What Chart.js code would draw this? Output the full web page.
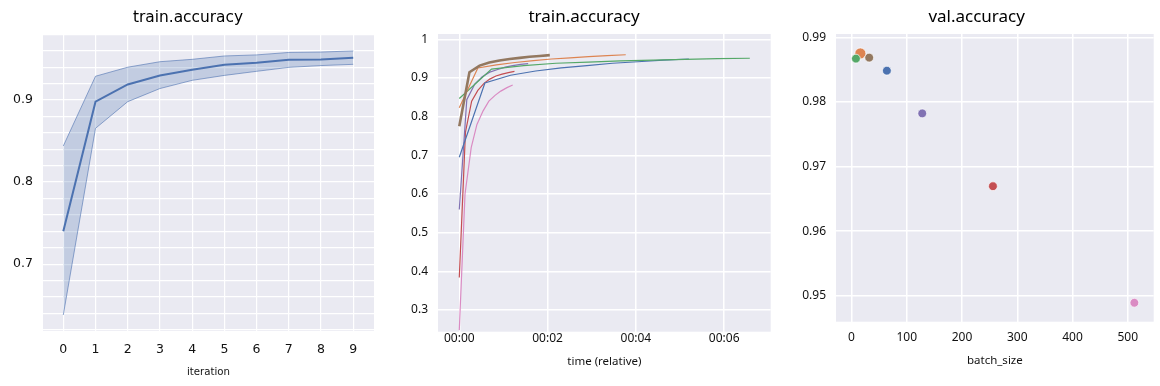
<!DOCTYPE html>
<html>
<head>
<meta charset="utf-8">
<script src="https://cdn.jsdelivr.net/npm/chart.js@4/dist/chart.umd.min.js"></script>
<style>
  body { margin: 0; background: #fff; }
  canvas { position: absolute; top: 0; }
</style>
</head>
<body>
<canvas id="iterChart" width="386" height="386" style="left:0"></canvas>
<canvas id="timeChart" width="387" height="386" style="left:386px"></canvas>
<canvas id="batchChart" width="387" height="386" style="left:773px"></canvas>
<script>
// left panel: accuracy per iteration (mean and band)
const iterations = [0, 1, 2, 3, 4, 5, 6, 7, 8, 9];
const meanAcc  = [0.740, 0.898, 0.919, 0.930, 0.937, 0.943, 0.9455, 0.949, 0.9495, 0.9516];
const upperAcc = [0.844, 0.929, 0.940, 0.9467, 0.9496, 0.9537, 0.955, 0.958, 0.9585, 0.9598];
const lowerAcc = [0.638, 0.8655, 0.898, 0.914, 0.924, 0.930, 0.935, 0.9398, 0.942, 0.9435];
const iterGridTicks = [0.62, 0.64, 0.66, 0.68, 0.70, 0.72, 0.74, 0.76, 0.78, 0.80,
                       0.82, 0.84, 0.86, 0.88, 0.90, 0.92, 0.94, 0.96, 0.98];
const iterLabelTicks = [0.7, 0.8, 0.9];

// middle panel: accuracy against time, one run per batch size
const timeTicks = [0, 2, 4, 6];
const timeTickLabels = ['00:00', '00:02', '00:04', '00:06'];
const accTicks = [0.3, 0.4, 0.5, 0.6, 0.7, 0.8, 0.9, 1.0];
const brownTime  = [0, 0.23, 0.46, 0.68, 0.91, 1.14, 1.37, 1.59, 1.82, 2.05];
const brownAcc   = [0.775, 0.915, 0.932, 0.940, 0.945, 0.949, 0.952, 0.955, 0.957, 0.959];
const orangeTime = [0, 0.42, 0.84, 1.26, 1.68, 2.09, 2.51, 2.93, 3.35, 3.77];
const orangeAcc  = [0.823, 0.926, 0.934, 0.940, 0.945, 0.949, 0.952, 0.955, 0.958, 0.960];
const greenTime  = [0, 0.73, 1.46, 2.19, 2.92, 3.65, 4.39, 5.12, 5.85, 6.58];
const greenAcc   = [0.847, 0.923, 0.932, 0.938, 0.941, 0.944, 0.946, 0.948, 0.950, 0.951];
const blueTime   = [0, 0.58, 1.16, 1.73, 2.31, 2.89, 3.47, 4.04, 4.62, 5.20];
const blueAcc    = [0.695, 0.887, 0.907, 0.918, 0.926, 0.932, 0.938, 0.942, 0.946, 0.949];
const purpleTime = [0, 0.17, 0.35, 0.52, 0.69, 0.87, 1.04, 1.21, 1.39, 1.56];
const purpleAcc  = [0.560, 0.844, 0.884, 0.903, 0.915, 0.922, 0.928, 0.932, 0.935, 0.937];
const redTime    = [0, 0.14, 0.28, 0.42, 0.56, 0.69, 0.83, 0.97, 1.11, 1.25];
const redAcc     = [0.384, 0.76, 0.840, 0.868, 0.886, 0.897, 0.905, 0.910, 0.914, 0.917];
const pinkTime   = [0, 0.13, 0.27, 0.40, 0.54, 0.67, 0.81, 0.94, 1.08, 1.21];
const pinkAcc    = [0.248, 0.60, 0.72, 0.78, 0.815, 0.840, 0.855, 0.866, 0.875, 0.882];

// right panel: final validation accuracy per batch size
const batchSizes = [16, 8, 32, 64, 128, 256, 512];
const valAcc = [0.9875, 0.9867, 0.98685, 0.98483, 0.97822, 0.96695, 0.94891];
const batchTicks = [0, 100, 200, 300, 400, 500];
const valTicks = [0.95, 0.96, 0.97, 0.98, 0.99];

const C = {
    blue: '#4c72b0', orange: '#dd8452', green: '#55a868', red: '#c44e52',
    purple: '#8172b3', brown: '#937860', pink: '#da8bc3'
};
const batchColors = [C.orange, C.green, C.brown, C.blue, C.purple, C.red, C.pink];
const batchRadius = [5.5, 4.4, 4.4, 4.4, 4.4, 4.4, 4.4];

const plotBg = {
    id: 'plotBg',
    beforeDraw(chart) {
        const { ctx, chartArea: a } = chart;
        ctx.save();
        ctx.fillStyle = '#eaeaf2';
        ctx.fillRect(a.left, a.top, a.right - a.left, a.bottom - a.top);
        ctx.restore();
    }
};

function pts(xs, ys) {
    return xs.map((x, i) => ({ x: x, y: ys[i] }));
}
function fixWidth(w) { return s => { s.width = w; }; }
function fixHeight(h) { return s => { s.height = h; }; }
function setTicks(values) { return s => { s.ticks = values.map(v => ({ value: v })); }; }

const common = {
    responsive: false,
    animation: false,
    events: []
};
const tickColor = '#111';

// ---- left panel ----
new Chart(document.getElementById('iterChart'), {
    type: 'line',
    data: {
        datasets: [{
            data: pts(iterations, meanAcc),
            borderColor: C.blue, borderWidth: 2, pointRadius: 0, fill: false
        }, {
            data: pts(iterations, upperAcc),
            borderColor: 'rgba(76,114,176,0.6)', borderWidth: 1, pointRadius: 0, fill: false
        }, {
            data: pts(iterations, lowerAcc),
            borderColor: 'rgba(76,114,176,0.6)', borderWidth: 1, pointRadius: 0,
            fill: '-1', backgroundColor: 'rgba(76,114,176,0.25)'
        }]
    },
    options: Object.assign({}, common, {
        layout: { padding: { left: 2, right: 12, top: 0, bottom: 0 } },
        plugins: {
            legend: { display: false },
            tooltip: { enabled: false },
            title: {
                display: true, text: 'train.accuracy', color: '#000',
                font: { family: 'DejaVu Sans', size: 15.4, weight: 'normal', lineHeight: 1.2 },
                padding: { top: 8.6, bottom: 6.9 }
            }
        },
        scales: {
            x: {
                type: 'linear', min: -0.63, max: 9.645,
                afterBuildTicks: setTicks(iterations),
                afterFit: fixHeight(55),
                grid: { color: '#fff', lineWidth: 1.2, drawTicks: false },
                border: { display: false },
                ticks: { color: tickColor, padding: 11, autoSkip: false, maxRotation: 0,
                         font: { family: 'DejaVu Sans', size: 12.5 } },
                title: { display: true, text: 'iteration', color: tickColor,
                         font: { family: 'DejaVu Sans', size: 10.2, lineHeight: 1.2 },
                         padding: { top: 0, bottom: 7.7 } }
            },
            y: {
                min: 0.6185, max: 0.9805,
                afterBuildTicks: setTicks(iterGridTicks),
                afterFit: fixWidth(41),
                grid: { color: '#fff', lineWidth: 1.2, drawTicks: false },
                border: { display: false },
                ticks: {
                    color: tickColor, padding: 10, autoSkip: false,
                    font: { family: 'DejaVu Sans', size: 12.5 },
                    callback: v => iterLabelTicks.some(t => Math.abs(t - v) < 1e-6) ? v.toFixed(1) : ''
                }
            }
        }
    }),
    plugins: [plotBg]
});

// ---- middle panel ----
function run(t, acc, color, width) {
    return { data: pts(t, acc), borderColor: color, borderWidth: width || 1.2,
             pointRadius: 0, fill: false, tension: 0 };
}
new Chart(document.getElementById('timeChart'), {
    type: 'line',
    data: {
        datasets: [
            run(brownTime, brownAcc, C.brown, 2.6),
            run(orangeTime, orangeAcc, C.orange),
            run(greenTime, greenAcc, C.green),
            run(blueTime, blueAcc, C.blue),
            run(purpleTime, purpleAcc, C.purple),
            run(redTime, redAcc, C.red),
            run(pinkTime, pinkAcc, C.pink)
        ]
    },
    options: Object.assign({}, common, {
        layout: { padding: { left: 11.3, right: 2.3, top: 0, bottom: 0 } },
        plugins: {
            legend: { display: false },
            tooltip: { enabled: false },
            title: {
                display: true, text: 'train.accuracy', color: '#000',
                font: { family: 'Noto Sans', size: 17, weight: 'normal', lineHeight: 1.2 },
                padding: { top: 7.2, bottom: 6.4 }
            }
        },
        scales: {
            x: {
                type: 'linear', min: -0.482, max: 7.053,
                afterBuildTicks: setTicks(timeTicks),
                afterFit: fixHeight(54.3),
                grid: { color: '#fff', lineWidth: 1.5, drawTicks: false },
                border: { display: false },
                ticks: { color: tickColor, padding: 0, autoSkip: false, maxRotation: 0,
                         font: { family: 'Noto Sans', size: 12 },
                         callback: v => timeTickLabels[timeTicks.indexOf(v)] },
                title: { display: true, text: 'time (relative)', color: tickColor,
                         font: { family: 'Noto Sans', size: 11.5, lineHeight: 1.2 },
                         padding: { top: 0, bottom: 16.9 } }
            },
            y: {
                min: 0.2439, max: 1.0137,
                afterBuildTicks: setTicks(accTicks),
                afterFit: fixWidth(40.7),
                grid: { color: '#fff', lineWidth: 1.5, drawTicks: false },
                border: { display: false },
                ticks: { color: tickColor, padding: 10, autoSkip: false,
                         font: { family: 'Noto Sans', size: 12 },
                         callback: v => Math.abs(v - 1) < 1e-6 ? '1' : v.toFixed(1) }
            }
        }
    }),
    plugins: [plotBg]
});

// ---- right panel ----
new Chart(document.getElementById('batchChart'), {
    type: 'scatter',
    data: {
        datasets: [{
            data: pts(batchSizes, valAcc),
            pointBackgroundColor: batchColors,
            pointBorderColor: 'rgba(255,255,255,0.85)',
            pointBorderWidth: 0.8,
            pointRadius: batchRadius
        }]
    },
    options: Object.assign({}, common, {
        layout: { padding: { left: 23.3, right: 3, top: 0, bottom: 0 } },
        plugins: {
            legend: { display: false },
            tooltip: { enabled: false },
            title: {
                display: true, text: 'val.accuracy', color: '#000',
                font: { family: 'Noto Sans', size: 17, weight: 'normal', lineHeight: 1.2 },
                padding: { top: 7.2, bottom: 6.4 }
            }
        },
        scales: {
            x: {
                type: 'linear', min: -28.1, max: 547,
                afterBuildTicks: setTicks(batchTicks),
                afterFit: fixHeight(64.3),
                grid: { color: '#fff', lineWidth: 1.5, drawTicks: false },
                border: { display: false },
                ticks: { color: tickColor, padding: 9, autoSkip: false, maxRotation: 0,
                         font: { family: 'Noto Sans', size: 12 } },
                title: { display: true, text: 'batch_size', color: tickColor,
                         font: { family: 'Noto Sans', size: 11.5, lineHeight: 1.2 },
                         padding: { top: 0, bottom: 17.9 } }
            },
            y: {
                min: 0.94598, max: 0.99051,
                afterBuildTicks: setTicks(valTicks),
                afterFit: fixWidth(39.7),
                grid: { color: '#fff', lineWidth: 1.5, drawTicks: false },
                border: { display: false },
                ticks: { color: tickColor, padding: 10, autoSkip: false,
                         font: { family: 'Noto Sans', size: 12 },
                         callback: v => v.toFixed(2) }
            }
        }
    }),
    plugins: [plotBg]
});
</script>
</body>
</html>
